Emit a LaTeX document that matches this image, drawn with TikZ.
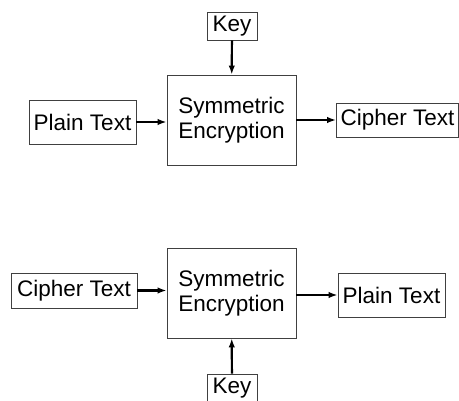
\documentclass[tikz,border=0pt]{standalone}
\usepackage{fontspec}
\setmainfont{Liberation Sans}
\usetikzlibrary{positioning,arrows.meta}
\tikzset{
  blk/.style={draw=black!75,line width=0.9pt,inner sep=0pt,font=\fontsize{22.5}{24.5}\selectfont},
  encblk/.style={blk,align=center,minimum width=129pt,minimum height=90pt},
  conn/.style={-{Latex[length=9pt,width=6.5pt]},line width=2.2pt},
}
\begin{document}
\begin{tikzpicture}[x=1pt,y=-1pt]
  \useasboundingbox (0,0) rectangle (459,401);
  % encryption
  \node[encblk] (enc) at (231.5,120) {Symmetric\\Encryption};
  \node[blk,minimum width=107pt,minimum height=44pt] (plainA) at (82.5,122) {Plain Text};
  \node[blk,minimum width=122pt,minimum height=34pt] (cipherA) at (397.5,120) {Cipher Text};
  \node[blk,minimum width=50pt,minimum height=28pt] (keyA) at (232,26) {Key};
  \draw[conn] (keyA) -- (enc);
  \draw[conn] (plainA.east) -- (plainA.east -| enc.west);
  \draw[conn] (cipherA.west -| enc.east) -- (cipherA.west);
  % decryption
  \node[encblk] (dec) at (231.5,293) {Symmetric\\Encryption};
  \node[blk,minimum width=126pt,minimum height=35pt] (cipherB) at (74,290.5) {Cipher Text};
  \node[blk,minimum width=107pt,minimum height=44pt] (plainB) at (391.5,295) {Plain Text};
  \node[blk,minimum width=50pt,minimum height=28pt] (keyB) at (232,388) {Key};
  \draw[conn] (keyB) -- (dec);
  \draw[conn] (cipherB.east) -- (cipherB.east -| dec.west);
  \draw[conn] (plainB.west -| dec.east) -- (plainB.west);
\end{tikzpicture}
\end{document}
